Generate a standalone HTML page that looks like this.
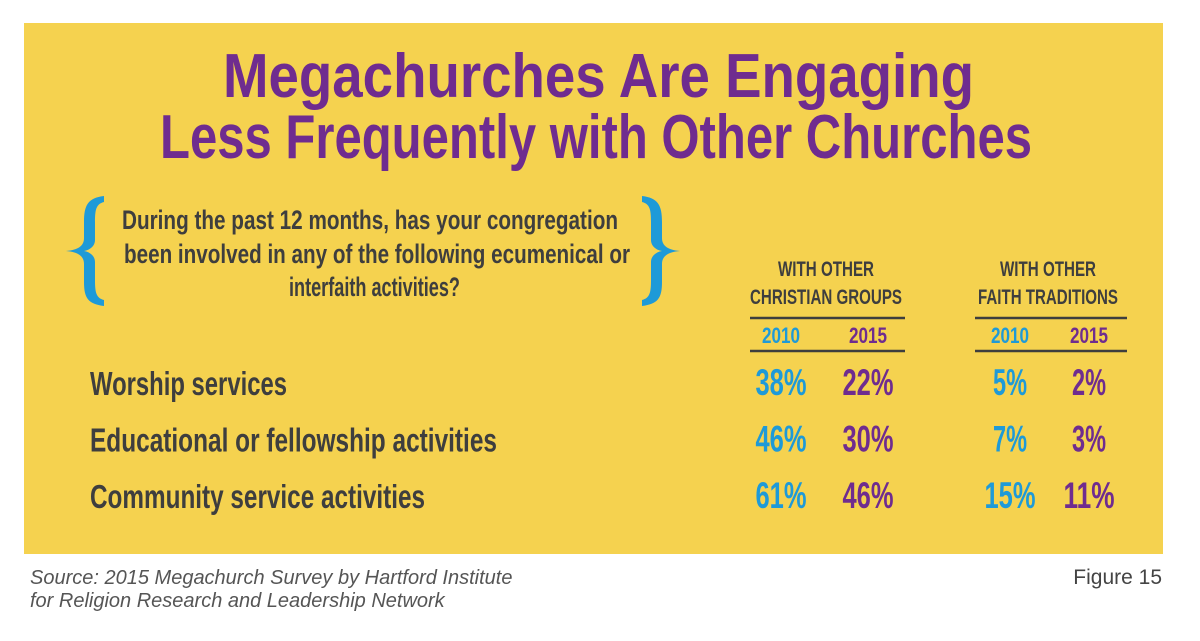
<!DOCTYPE html>
<html><head><meta charset="utf-8"><style>
html,body{margin:0;padding:0;background:#fff;}
svg{display:block;}
text{font-family:"Liberation Sans",sans-serif;font-weight:bold;}
</style></head><body>
<svg id="chart" width="1200" height="641" viewBox="0 0 1200 641" xmlns="http://www.w3.org/2000/svg">
<rect x="24" y="23" width="1139" height="531" fill="#F5D24F"/>
<g fill="#6F2C8F">
<text x="223" y="97" font-size="62" textLength="751" lengthAdjust="spacingAndGlyphs">Megachurches Are Engaging</text>
<text x="160" y="158" font-size="62" textLength="872" lengthAdjust="spacingAndGlyphs">Less Frequently with Other Churches</text>
</g>
<g><path d="M104,196 C88,198 84,205 84,222 L84,238 C84,246 78,250 66,251 C78,252 84,256 84,264 L84,282 C84,298 88,304 104,306 L104,300 C96,298 95,292 95,280 L95,262 C95,256 90,252 84,251 C90,250 95,246 95,240 L95,222 C95,210 96,204 104,202 Z" fill="#1E9AD8"/></g>
<g><path d="M642,196 C658,198 662,205 662,222 L662,238 C662,246 668,250 680,251 C668,252 662,256 662,264 L662,282 C662,298 658,304 642,306 L642,300 C650,298 651,292 651,280 L651,262 C651,256 656,252 662,251 C656,250 651,246 651,240 L651,222 C651,210 650,204 642,202 Z" fill="#1E9AD8"/></g>
<g fill="#3E3E3E">
<text x="122" y="229" font-size="27" textLength="496" lengthAdjust="spacingAndGlyphs">During the past 12 months, has your congregation</text>
<text x="124" y="263" font-size="27" textLength="506" lengthAdjust="spacingAndGlyphs">been involved in any of the following ecumenical or</text>
<text x="289" y="296" font-size="27" textLength="171" lengthAdjust="spacingAndGlyphs">interfaith activities?</text>
</g>
<g fill="#3E3E3E">
<text x="826" y="276" font-size="21" text-anchor="middle" textLength="96" lengthAdjust="spacingAndGlyphs">WITH OTHER</text>
<text x="826" y="304" font-size="21" text-anchor="middle" textLength="152" lengthAdjust="spacingAndGlyphs">CHRISTIAN GROUPS</text>
<text x="1048" y="276" font-size="21" text-anchor="middle" textLength="96" lengthAdjust="spacingAndGlyphs">WITH OTHER</text>
<text x="1048" y="304" font-size="21" text-anchor="middle" textLength="140" lengthAdjust="spacingAndGlyphs">FAITH TRADITIONS</text>
</g>
<g stroke="#3E3E3E" stroke-width="2.5">
<line x1="750" y1="318" x2="905" y2="318"/><line x1="750" y1="351" x2="905" y2="351"/>
<line x1="975" y1="318" x2="1127" y2="318"/><line x1="975" y1="351" x2="1127" y2="351"/>
</g>
<g id="years"></g>
<g id="labels" fill="#3E3E3E"></g>
<g id="values"></g>
<g fill="#555" >
<text x="30" y="584" font-size="20" font-style="italic" style="font-weight:normal">Source: 2015 Megachurch Survey by Hartford Institute</text>
<text x="30" y="607" font-size="20" font-style="italic" style="font-weight:normal">for Religion Research and Leadership Network</text>
</g>
<text x="1162" y="584" font-size="21" text-anchor="end" fill="#444" style="font-weight:normal">Figure 15</text>
</svg>
<script>
const categories = ["Worship services","Educational or fellowship activities","Community service activities"];
const christian2010 = [38,46,61];
const christian2015 = [22,30,46];
const faith2010 = [5,7,15];
const faith2015 = [2,3,11];
const yearLabels = ["2010","2015","2010","2015"];

const NS="http://www.w3.org/2000/svg";
const colX=[781,868,1010,1089];
const colColor=["#1E9AD8","#6F2C8F","#1E9AD8","#6F2C8F"];
const rowY=i=>395+i*56.5;
const labelW=[197,407,335];
function mk(parent,txt,attrs){const t=document.createElementNS(NS,"text");for(const k in attrs)t.setAttribute(k,attrs[k]);t.textContent=txt;parent.appendChild(t);return t;}
const yg=document.getElementById("years");
yearLabels.forEach((y,j)=>{
  const t=mk(yg,y,{x:colX[j],y:343,"font-size":22,"text-anchor":"middle",fill:colColor[j],textLength:38,lengthAdjust:"spacingAndGlyphs"});
  
  
});
const lg=document.getElementById("labels");
categories.forEach((c,i)=>{
  const t=mk(lg,c,{x:90,y:rowY(i),"font-size":33,textLength:labelW[i]*1,lengthAdjust:"spacingAndGlyphs"});
  
  
});
const vg=document.getElementById("values");
const series=[christian2010,christian2015,faith2010,faith2015];
series.forEach((s,j)=>{
  s.forEach((v,i)=>{
    const str=v+"%";
    const t=mk(vg,str,{x:colX[j],y:rowY(i),"font-size":37,"text-anchor":"middle",fill:colColor[j],textLength:str.length*17,lengthAdjust:"spacingAndGlyphs"});
    
    
  });
});
</script>
</body></html>
